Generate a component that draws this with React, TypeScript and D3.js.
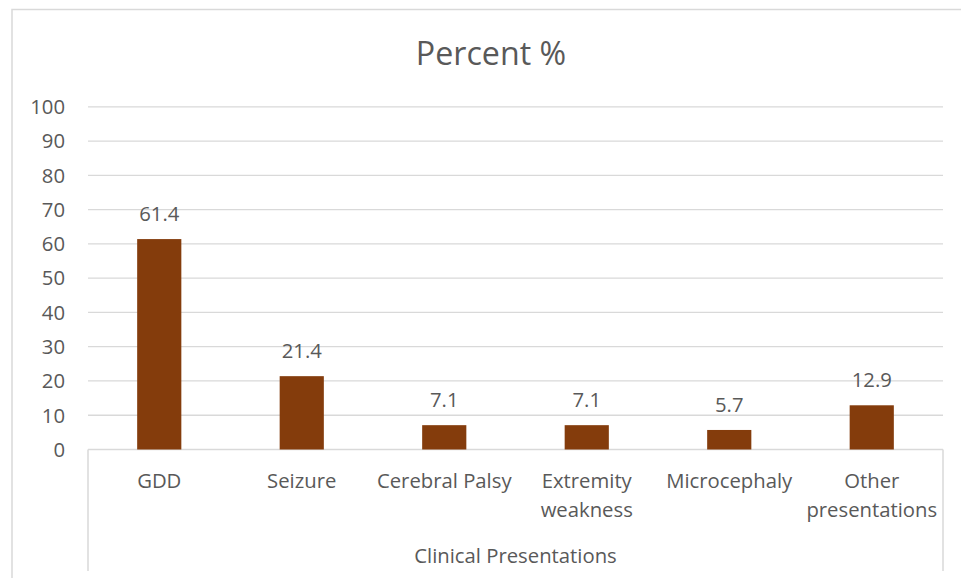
import React from "react";
import * as d3 from "d3";

const categories = ["GDD", "Seizure", "Cerebral Palsy", "Extremity weakness", "Microcephaly", "Other presentations"];
const categoryLines = [["GDD"], ["Seizure"], ["Cerebral Palsy"], ["Extremity", "weakness"], ["Microcephaly"], ["Other", "presentations"]];
const values = [61.4, 21.4, 7.1, 7.1, 5.7, 12.9];
const yTicks = [0, 10, 20, 30, 40, 50, 60, 70, 80, 90, 100];
const title = "Percent %";
const xTitle = "Clinical Presentations";

const W = 961, H = 578;
const plotLeft = 88, plotRight = 943, plotTop = 106.8, plotBottom = 449.5;
const FONT = "'Open Sans', sans-serif";
const TEXT = "#595959";
const GRID = "#D9D9D9";
const BAR = "#843C0C";
const FS = 20.3;

export default function App() {
  const x = d3.scaleBand<string>().domain(categories).range([plotLeft, plotRight]).paddingInner(0.69).paddingOuter(0.345);
  const y = d3.scaleLinear().domain([0, 100]).range([plotBottom, plotTop]);
  const step = (plotRight - plotLeft) / categories.length;
  return (
    <svg width={W} height={H} style={{ position: "absolute", left: 0, top: 0, background: "#fff" }} fontFamily={FONT}>
      <rect x={12} y={9.5} width={W} height={H} fill="#fff" stroke={GRID} strokeWidth={1.5} />
      <text x={491} y={65} textAnchor="middle" fontSize={32.2} fill={TEXT}>{title}</text>
      {yTicks.map((t) => (
        <g key={t}>
          {t > 0 && <line x1={plotLeft} x2={plotRight} y1={y(t)} y2={y(t)} stroke={GRID} strokeWidth={1.3} />}
          <text x={65} y={y(t)} dy="0.36em" textAnchor="end" fontSize={FS} fill={TEXT}>{t}</text>
        </g>
      ))}
      <line x1={plotLeft} x2={plotRight} y1={y(0)} y2={y(0)} stroke={GRID} strokeWidth={1.5} />
      <line x1={plotLeft} x2={plotLeft} y1={y(0)} y2={571} stroke={GRID} strokeWidth={1.5} />
      <line x1={plotRight} x2={plotRight} y1={y(0)} y2={571} stroke={GRID} strokeWidth={1.5} />
      {categories.map((c, i) => (
        <g key={c}>
          <rect x={x(c)} y={y(values[i])} width={x.bandwidth()} height={y(0) - y(values[i])} fill={BAR} />
          <text x={x(c)! + x.bandwidth() / 2} y={y(values[i]) - 18} textAnchor="middle" fontSize={FS} fill={TEXT}>{values[i]}</text>
          {categoryLines[i].map((l, j) => (
            <text key={j} x={plotLeft + step * (i + 0.5)} y={488 + j * 29} textAnchor="middle" fontSize={FS} fill={TEXT}>{l}</text>
          ))}
        </g>
      ))}
      <text x={(plotLeft + plotRight) / 2} y={563} textAnchor="middle" fontSize={FS} fill={TEXT}>{xTitle}</text>
    </svg>
  );
}
